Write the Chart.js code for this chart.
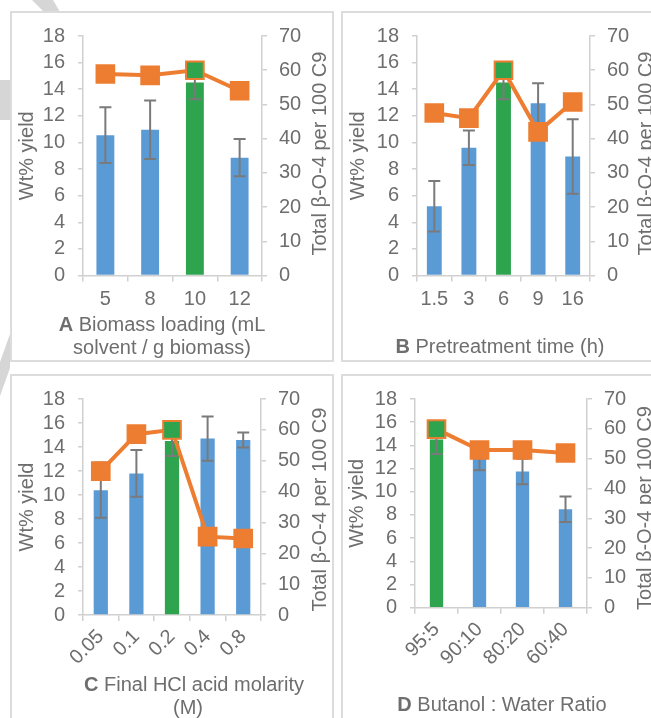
<!DOCTYPE html>
<html>
<head>
<meta charset="utf-8">
<script src="https://cdn.jsdelivr.net/npm/chart.js@4.4.1/dist/chart.umd.min.js"></script>
<style>
html,body{margin:0;padding:0;background:#fff;width:651px;height:718px;overflow:hidden;}
body{position:relative;}
.frame{position:absolute;border:2px solid #dcdcdc;box-sizing:border-box;background:#fff;}
.holder{position:absolute;}
.holder canvas{display:block;}
#wm{position:absolute;left:0;top:0;}
</style>
</head>
<body>
<svg id="wm" width="651" height="718">
  <polygon points="32,0 53,0 60,12 44,12" fill="#d6d6d6"/>
  <rect x="0" y="80" width="10" height="40" fill="#d6d6d6"/>
  <polygon points="10,334 10,368 0,396 0,362" fill="#d6d6d6"/>
</svg>
<div class="frame" style="left:10px;top:11px;width:324px;height:351px"></div>
<div class="frame" style="left:341px;top:11px;width:320px;height:351px"></div>
<div class="frame" style="left:10px;top:374px;width:324px;height:360px"></div>
<div class="frame" style="left:341px;top:374px;width:320px;height:360px"></div>
<div class="holder" style="left:10px;top:11px"><canvas id="cA" width="324" height="351"></canvas></div>
<div class="holder" style="left:341px;top:11px"><canvas id="cB" width="320" height="351"></canvas></div>
<div class="holder" style="left:10px;top:374px"><canvas id="cC" width="324" height="360"></canvas></div>
<div class="holder" style="left:341px;top:374px"><canvas id="cD" width="320" height="360"></canvas></div>
<script>
// ---------------- data ----------------
const catsA = ['5', '8', '10', '12'];
const yieldA = [10.55, 10.95, 14.5, 8.85];
const errA = [2.1, 2.2, 1.25, 1.4];
const betaA = [58.9, 58.5, 60, 54];
const optimumA = '10';

const catsB = ['1.5', '3', '6', '9', '16'];
const yieldB = [5.2, 9.6, 14.5, 12.95, 8.95];
const errB = [1.9, 1.3, 1.25, 1.5, 2.8];
const betaB = [47.5, 46, 60, 42, 50.7];
const optimumB = '6';

const catsC = ['0.05', '0.1', '0.2', '0.4', '0.8'];
const yieldC = [10.4, 11.8, 14.5, 14.7, 14.58];
const errC = [2.3, 1.95, 1.25, 1.85, 0.62];
const betaC = [46.6, 58.6, 60, 25.4, 24.8];
const optimumC = '0.2';

const catsD = ['95:5', '90:10', '80:20', '60:40'];
const yieldD = [14.5, 12.9, 11.75, 8.5];
const errD = [1.25, 1.05, 1.1, 1.1];
const betaD = [59.9, 52.9, 52.9, 51.9];
const optimumD = '95:5';

const yieldMax = 18, yieldStep = 2;
const betaMax = 70, betaStep = 10;

const leftTitle = 'Wt% yield';
const rightTitle = 'Total β-O-4 per 100 C9';
const xTitleA = [['A', ' Biomass loading (mL'], ['', 'solvent / g biomass)']];
const xTitleB = [['B', ' Pretreatment time (h)']];
const xTitleC = [['C', ' Final HCl acid molarity'], ['', '(M)']];
const xTitleD = [['D', ' Butanol : Water Ratio']];

// ---------------- style ----------------
const FONT = "'Liberation Sans', Arial, Helvetica, sans-serif";
const TEXT = '#6e6e6e';
const AXIS = '#d0d0d0';
const BLUE = '#5b9bd5', GREEN = '#2ea44f', ORANGE = '#ed7d31', ERR = '#7a7a7a';

const errorBars = {
  id: 'errorBars',
  afterDatasetDraw(chart, args) {
    const ds = chart.data.datasets[args.index];
    if (!ds.errors) return;
    const ys = chart.scales[args.meta.yAxisID];
    const ctx = chart.ctx;
    ctx.save();
    ctx.strokeStyle = ERR;
    ctx.lineWidth = 2;
    args.meta.data.forEach((bar, i) => {
      const v = ds.data[i], e = ds.errors[i];
      const x = bar.x;
      const yt = ys.getPixelForValue(v + e), yb = ys.getPixelForValue(v - e);
      ctx.beginPath();
      ctx.moveTo(x, yt); ctx.lineTo(x, yb);
      ctx.moveTo(x - 6, yt); ctx.lineTo(x + 6, yt);
      ctx.moveTo(x - 6, yb); ctx.lineTo(x + 6, yb);
      ctx.stroke();
    });
    ctx.restore();
  }
};

const panelTitles = {
  id: 'panelTitles',
  afterDraw(chart, args, o) {
    const ctx = chart.ctx, a = chart.chartArea;
    ctx.save();
    ctx.fillStyle = TEXT;
    ctx.textBaseline = 'middle';
    ctx.textAlign = 'center';
    ctx.font = '20px ' + FONT;
    ctx.save();
    ctx.translate(o.leftX, (a.top + a.bottom) / 2);
    ctx.rotate(-Math.PI / 2);
    ctx.fillText(leftTitle, 0, 0);
    ctx.restore();
    ctx.save();
    ctx.translate(o.rightX, o.rightY);
    ctx.rotate(-Math.PI / 2);
    ctx.fillText(rightTitle, 0, 0);
    ctx.restore();
    ctx.textAlign = 'left';
    o.lines.forEach((pos, i) => {
      const [b, t] = o.text[i];
      ctx.font = 'bold 20px ' + FONT;
      const bw = b ? ctx.measureText(b).width : 0;
      ctx.font = '20px ' + FONT;
      const tw = ctx.measureText(t).width;
      const x0 = pos[0] - (bw + tw) / 2;
      if (b) { ctx.font = 'bold 20px ' + FONT; ctx.fillText(b, x0, pos[1]); }
      ctx.font = '20px ' + FONT;
      ctx.fillText(t, x0 + bw, pos[1]);
    });
    ctx.restore();
  }
};

function panel(id, cats, yields, errs, betas, optimum, xText, L) {
  const barColors = cats.map(c => c === optimum ? GREEN : BLUE);
  const ptColors = cats.map(c => c === optimum ? GREEN : ORANGE);
  const tickFont = { family: FONT, size: 20 };
  return new Chart(document.getElementById(id), {
    type: 'bar',
    data: {
      labels: cats,
      datasets: [
        { type: 'line', label: rightTitle, data: betas, yAxisID: 'y1', order: 1,
          borderColor: ORANGE, borderWidth: 4, pointStyle: 'rect', pointRadius: 12.5,
          pointHoverRadius: 12.5, pointBackgroundColor: ptColors, pointBorderColor: ORANGE,
          pointBorderWidth: 2, fill: false, tension: 0 },
        { type: 'bar', label: leftTitle, data: yields, errors: errs, yAxisID: 'y', order: 2,
          backgroundColor: barColors, barPercentage: L.bp, categoryPercentage: 1 }
      ]
    },
    options: {
      responsive: false,
      animation: false,
      layout: { padding: { top: L.t, left: 0, right: 0, bottom: 0 } },
      plugins: { legend: { display: false }, tooltip: { enabled: false },
        panelTitles: { leftX: L.lx, rightX: L.rx, rightY: L.ry, lines: L.lines, text: xText } },
      scales: {
        x: {
          offset: true,
          grid: { offset: true, drawOnChartArea: false, drawTicks: true, tickLength: 6, color: AXIS, lineWidth: 1.5 },
          border: { color: AXIS, width: 1.5 },
          ticks: { color: TEXT, font: tickFont, padding: L.xpad, maxRotation: L.rot, minRotation: L.rot, autoSkip: false },
          afterFit: s => { s.height = L.xh; }
        },
        y: {
          position: 'left', min: 0, max: yieldMax,
          grid: { drawOnChartArea: false, drawTicks: true, tickLength: 5, color: AXIS, lineWidth: 1.5 },
          border: { color: AXIS, width: 1.5 },
          ticks: { stepSize: yieldStep, autoSkip: false, color: TEXT, font: tickFont, padding: 13 },
          afterFit: s => { s.width = L.yw; }
        },
        y1: {
          position: 'right', min: 0, max: betaMax,
          grid: { drawOnChartArea: false, drawTicks: true, tickLength: 5, color: AXIS, lineWidth: 1.5 },
          border: { color: AXIS, width: 1.5 },
          ticks: { stepSize: betaStep, autoSkip: false, color: TEXT, font: tickFont, padding: 12 },
          afterFit: s => { s.width = L.y1w; }
        }
      }
    },
    plugins: [errorBars, panelTitles]
  });
}

panel('cA', catsA, yieldA, errA, betaA, optimumA, xTitleA,
  { t: 22, yw: 73, y1w: 72, xh: 86.5, bp: 0.40, rot: 0, xpad: 6,
    lx: 17.5, rx: 310, ry: 142.5, lines: [[152, 314], [152, 337]] });
panel('cB', catsB, yieldB, errB, betaB, optimumB, xTitleB,
  { t: 22, yw: 76, y1w: 71, xh: 86.5, bp: 0.43, rot: 0, xpad: 6,
    lx: 17, rx: 305.7, ry: 142.5, lines: [[159, 336]] });
panel('cC', catsC, yieldC, errC, betaC, optimumC, xTitleC,
  { t: 21, yw: 73, y1w: 73, xh: 119, bp: 0.40, rot: 45, xpad: 4,
    lx: 17.5, rx: 310, ry: 135.5, lines: [[184, 311], [178, 334]] });
panel('cD', catsD, yieldD, errD, betaD, optimumD, xTitleD,
  { t: 21, yw: 74, y1w: 74, xh: 126.3, bp: 0.31, rot: 45, xpad: 4,
    lx: 16, rx: 304, ry: 134, lines: [[161, 331]] });
</script>
</body>
</html>
